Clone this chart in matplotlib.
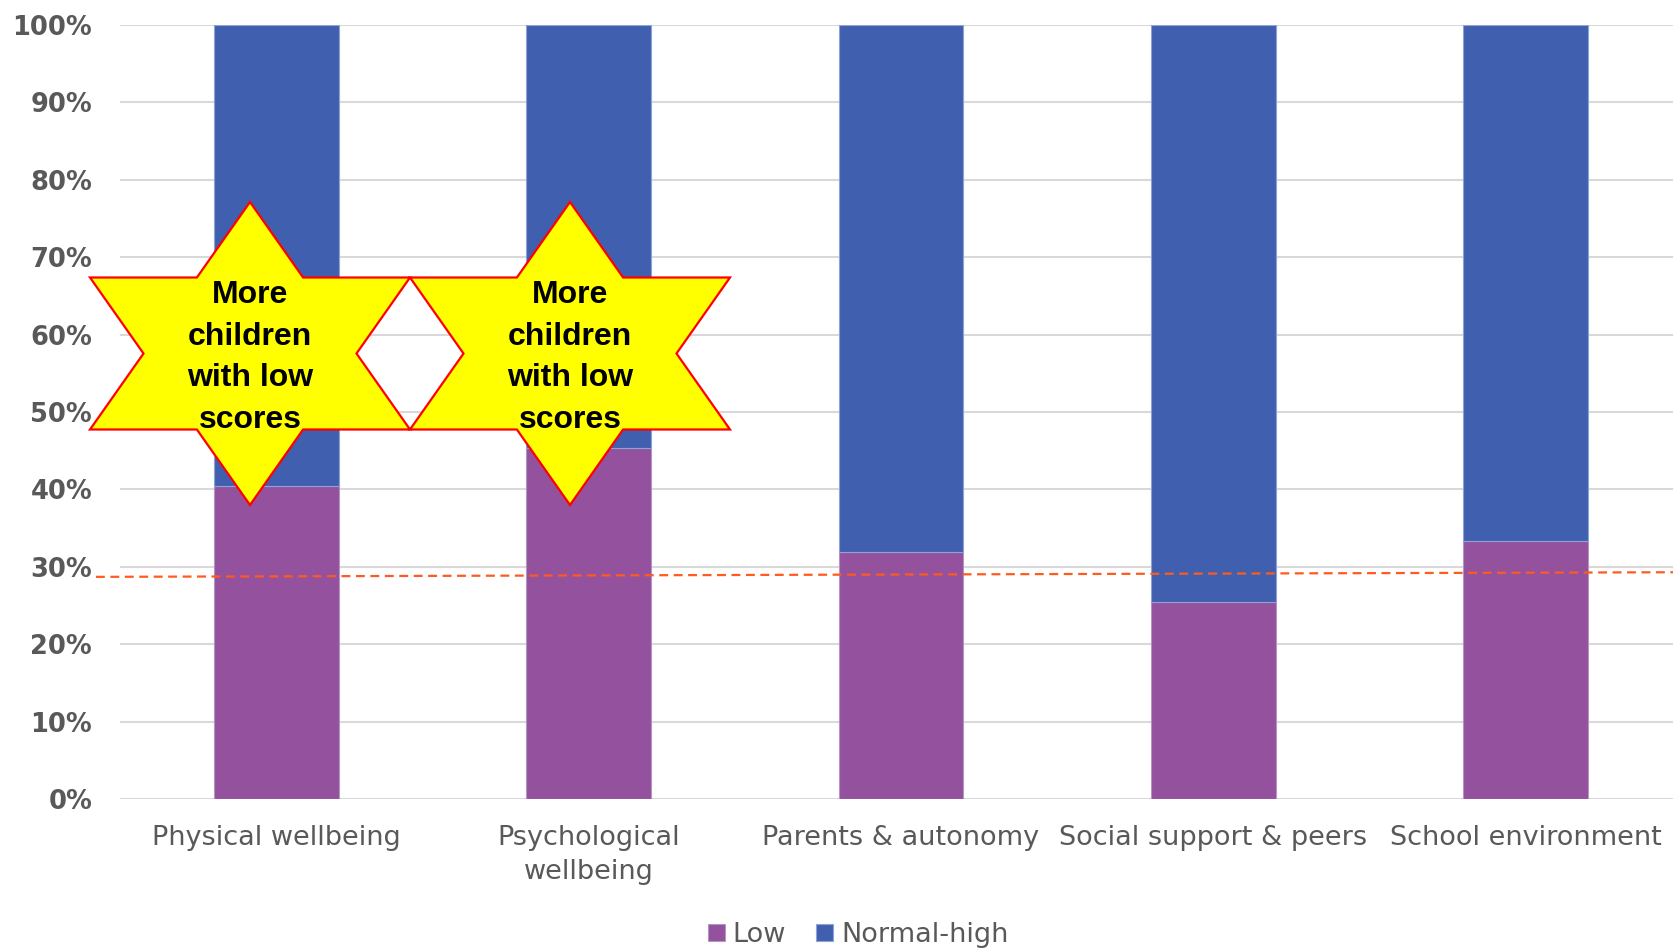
import numpy as np
import matplotlib.pyplot as plt
from matplotlib.patches import Polygon

categories = ['Physical wellbeing', 'Psychological\nwellbeing', 'Parents & autonomy',
              'Social support & peers', 'School environment']
low = [40.4, 45.3, 31.9, 25.4, 33.3]
normal_high = [100 - v for v in low]
# dashed reference line (start, end) in %
ref_line = [28.7, 29.3]
yticks = list(range(0, 101, 10))

W, H = 1674, 950
fig = plt.figure(figsize=(W / 100, H / 100), dpi=100)
ax = fig.add_axes([120 / W, 1 - 799 / H, (1682 - 120) / W, (799 - 25) / H])

x = np.arange(len(categories))
ax.bar(x, low, width=0.4, color='#93519E', edgecolor='#B596C0', linewidth=0.8,
       label='Low', zorder=2)
ax.bar(x, normal_high, width=0.4, bottom=low, color='#4060AF', edgecolor='#8FA2D4',
       linewidth=0.8, label='Normal-high', zorder=2)

ax.set_xlim(-0.5, 4.5)
ax.set_ylim(0, 100)
ax.set_yticks(yticks)
ax.set_yticklabels([f'{t}%' for t in yticks], fontweight='bold')
ax.set_xticks(x)
ax.set_xticklabels(categories, linespacing=1.4)
ax.grid(axis='y', color='#D9D9D9', linewidth=1.5, zorder=0)
ax.set_axisbelow(True)
for s in ax.spines.values():
    s.set_visible(False)
ax.tick_params(axis='y', length=0, pad=20, labelsize=18.5, labelcolor='#595959')
ax.tick_params(axis='x', length=0, pad=19, labelsize=19.5, labelcolor='#595959')

# dashed line, starts a little left of the plot area
ax.plot([-0.577, 4.5], ref_line, color='#FF5A1F', linewidth=1.6, dashes=(4, 2.5),
        clip_on=False, zorder=3)


def star(cx, cy):
    pts = [(0, -151.5), (53.1, -76), (160, -76), (106.5, 0), (160, 76), (53.1, 76),
           (0, 151.5), (-53.1, 76), (-160, 76), (-106.5, 0), (-160, -76), (-53.1, -76)]
    verts = [((cx + dx) / W, 1 - (cy + dy) / H) for dx, dy in pts]
    fig.patches.append(Polygon(verts, closed=True, transform=fig.transFigure,
                               facecolor='#FFFF00', edgecolor='#FF0000', linewidth=1.6,
                               zorder=5))
    fig.text(cx / W, 1 - (cy + 4) / H, 'More\nchildren\nwith low\nscores', ha='center',
             va='center', fontsize=23, fontweight='bold', family='Liberation Sans',
             linespacing=1.5, zorder=6)


star(250, 353.5)
star(570, 353.5)

fig.legend(loc='center', bbox_to_anchor=(858 / W, 1 - 935 / H), ncol=2, frameon=False,
           fontsize=19.5, labelcolor='#595959', handlelength=0.63, handleheight=0.63,
           handletextpad=0.3, columnspacing=1.1)

fig.savefig('out.png', dpi=100)
